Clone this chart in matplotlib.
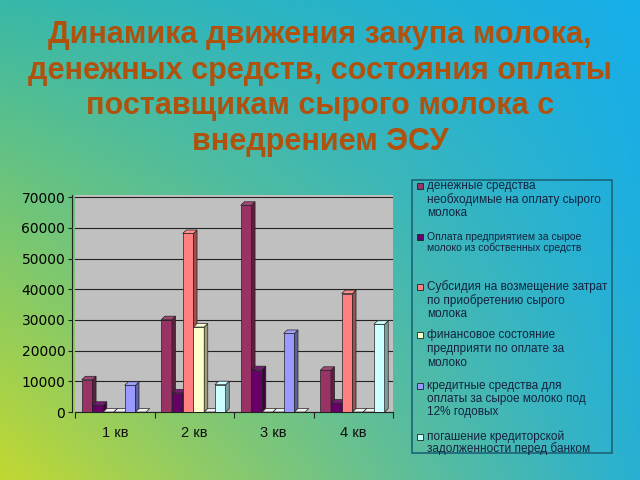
import numpy as np
import matplotlib
matplotlib.use("Agg")
import matplotlib.pyplot as plt
from matplotlib.patches import Polygon, Rectangle
from matplotlib.colors import to_rgb

# ---- data ----
categories = ["1 кв", "2 кв", "3 кв", "4 кв"]
s_money = [10500, 30100, 67400, 13600]
s_own = [2200, 6200, 13800, 2900]
s_subsidy = [0, 58200, 0, 38600]
s_fin_state = [0, 27700, 0, 0]
s_credit = [8700, 0, 25600, 0]
s_repay = [0, 8900, 0, 28600]
series = [s_money, s_own, s_subsidy, s_fin_state, s_credit, s_repay]
labels = [
    "денежные средства\nнеобходимые на оплату сырого\nмолока",
    "Оплата предприятием за сырое\nмолоко из собственных средств",
    "Субсидия на возмещение затрат\nпо приобретению сырого\nмолока",
    "финансовое состояние\nпредприяти по оплате за\nмолоко",
    "кредитные средства для\nоплаты за сырое молоко под\n12% годовых",
    "погашение кредиторской\nзадолженности перед банком",
]
colors = ["#993366", "#660066", "#ff8080", "#ffffcc", "#9999ff", "#ccffff"]
yticks = [0, 10000, 20000, 30000, 40000, 50000, 60000, 70000]
title = ("Динамика движения закупа молока,\nденежных средств, состояния оплаты\n"
         "поставщикам сырого молока с\nвнедрением ЭСУ")

W, H = 640, 480
fig = plt.figure(figsize=(6.4, 4.8), dpi=100)

# ---- background gradient ----
bg = fig.add_axes([0, 0, 1, 1], zorder=-10)
tl = np.array(to_rgb("#38b8a8")); tr = np.array(to_rgb("#16aeea"))
bl = np.array(to_rgb("#c2d832")); br = np.array(to_rgb("#28b0d2"))
u = np.linspace(0, 1, W)[None, :, None]
v = np.linspace(0, 1, H)[:, None, None]
img = (1 - v) * ((1 - u) * tl + u * tr) + v * ((1 - u) * bl + u * br)
bg.imshow(np.clip(img, 0, 1), aspect="auto", extent=[0, 1, 0, 1])
bg.set_axis_off()

# ---- title ----
fig.text(0.5, 1 - 88.5 / H, title, ha="center", va="center", fontsize=22,
         fontweight="bold", color="#b0520e", family="Liberation Sans",
         linespacing=1.255)

# ---- chart ----
x0, x1, y0, y1 = 75, 393, 412, 195
ax = fig.add_axes([x0 / W, 1 - y0 / H, (x1 - x0) / W, (y0 - y1) / H])
ax.set_facecolor("#c0c0c0")
ymax = 70000 + 2.3 / 214.4 * 70000
ax.set_xlim(0, 4)
ax.set_ylim(0, ymax)

offset, step = 0.085, 0.135
dx = 0.045
dy = 3.5 / (y0 - y1) * ymax


def shade(c, f):
    r = np.array(to_rgb(c))
    return tuple(r * f)


def lighten(c, f):
    r = np.array(to_rgb(c))
    return tuple(r + (1 - r) * f)


xs = np.arange(len(categories))
for i, (vals, col) in enumerate(zip(series, colors)):
    left = xs + offset + i * step
    bars = ax.bar(left, vals, width=step, align="edge", color=col,
                  edgecolor="#222222", linewidth=0.5, zorder=3 + 2 * i)
    for b, val in zip(bars, vals):
        xl = b.get_x(); xr = xl + b.get_width(); h = b.get_height()
        side = Polygon([(xr, 0), (xr + dx, dy), (xr + dx, h + dy), (xr, h)],
                       closed=True, facecolor=shade(col, 0.62),
                       edgecolor="#222222", linewidth=0.5, zorder=3 + 2 * i + 1)
        top = Polygon([(xl, h), (xl + dx, h + dy), (xr + dx, h + dy), (xr, h)],
                      closed=True, facecolor=lighten(col, 0.1) if h > 0 else "#f0f0f0",
                      edgecolor="#222222", linewidth=0.5, zorder=3 + 2 * i + 1)
        if h > 0:
            ax.add_patch(side)
        ax.add_patch(top)

ax.set_yticks(yticks)
ax.set_yticklabels([str(t) for t in yticks])
ax.yaxis.grid(True, color="#222222", linewidth=0.8, zorder=1)
ax.set_axisbelow(True)
ax.set_xticks(np.arange(0, 5))
ax.set_xticklabels([])
ax.set_xticks(xs + 0.5, minor=True)
ax.set_xticklabels(categories, minor=True)
ax.tick_params(axis="x", which="minor", length=0, pad=10)
ax.tick_params(axis="x", which="major", length=4, direction="out", color="#222222")
ax.tick_params(axis="y", length=3, direction="out", color="#222222", pad=2)
for lab in ax.get_yticklabels() + ax.get_xticklabels(minor=True):
    lab.set_family("Liberation Sans")
    lab.set_fontsize(10.5)
    lab.set_color("#111111")
for s in ["top", "right"]:
    ax.spines[s].set_visible(False)
ax.spines["left"].set_position(("outward", 2))
ax.spines["left"].set_color("#222222")
ax.spines["bottom"].set_color("#222222")

# ---- legend ----
lx0, lx1, ly0, ly1 = 412, 612, 180, 453
fig.patches.append(Rectangle((lx0 / W, 1 - ly1 / H), (lx1 - lx0) / W,
                             (ly1 - ly0) / H, transform=fig.transFigure,
                             facecolor="none", edgecolor="#1b6478", linewidth=1.2))
first_line_y = [186, 237, 287, 335, 386, 437]
sizes = [8.5, 7.5, 8.5, 8.5, 8.5, 8.5]
spacing = [13.4, 11.2, 13.4, 13.8, 13.2, 11.5]
for lab, col, yy, fs, sp in zip(labels, colors, first_line_y, sizes, spacing):
    fig.patches.append(Rectangle((417 / W, 1 - (yy + 3) / H), 6 / W, 6 / H,
                                 transform=fig.transFigure, facecolor=col,
                                 edgecolor="#222222", linewidth=0.6))
    for k, line in enumerate(lab.split("\n")):
        fig.text(427 / W, 1 - (yy + k * sp) / H, line, ha="left", va="center",
                 fontsize=fs, color="#15223f", family="Liberation Sans")

fig.savefig("out.png", dpi=100)
